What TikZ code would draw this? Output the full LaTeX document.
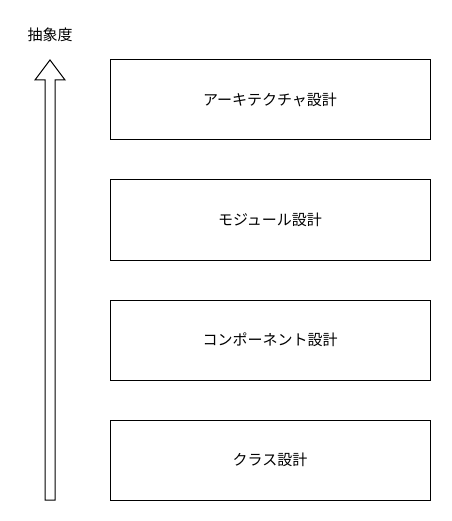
\documentclass[tikz,border=0pt]{standalone}
\usepackage{fontspec}
\setmainfont{Noto Sans CJK JP}
\usepackage{tikz}
\usetikzlibrary{calc}
\definecolor{ink}{HTML}{000000}
\tikzset{
  line/.style={draw=ink, line width=1pt},
  layerbox/.style={line, minimum width=320pt, minimum height=80pt, inner sep=0pt,
    text=ink, font=\fontsize{15}{17}\selectfont},
  lbl/.style={text=ink, font=\fontsize{15}{17}\selectfont}
}
\begin{document}
\begin{tikzpicture}[x=1pt, y=-1pt]
  \useasboundingbox (0,0) rectangle (451,521);

  % design layers, top to bottom
  \node[layerbox] (arch) at (270,100) {アーキテクチャ設計};
  \node[layerbox] (module) at (270,220) {モジュール設計};
  \node[layerbox] (comp) at (270,340) {コンポーネント設計};
  \node[layerbox] (cls) at (270,460) {クラス設計};

  % hollow arrow for abstraction level
  \coordinate (tip) at (50,60);
  \coordinate (base) at (50,500);
  \draw[line, line join=miter]
    ($(base)+(-5,0)$) -- ($(tip)+(-5,20)$) -- ($(tip)+(-15,20)$) -- (tip)
    -- ($(tip)+(15,20)$) -- ($(tip)+(5,20)$) -- ($(base)+(5,0)$) -- cycle;

  \node[lbl] (level) at (50,35) {抽象度};
\end{tikzpicture}
\end{document}
